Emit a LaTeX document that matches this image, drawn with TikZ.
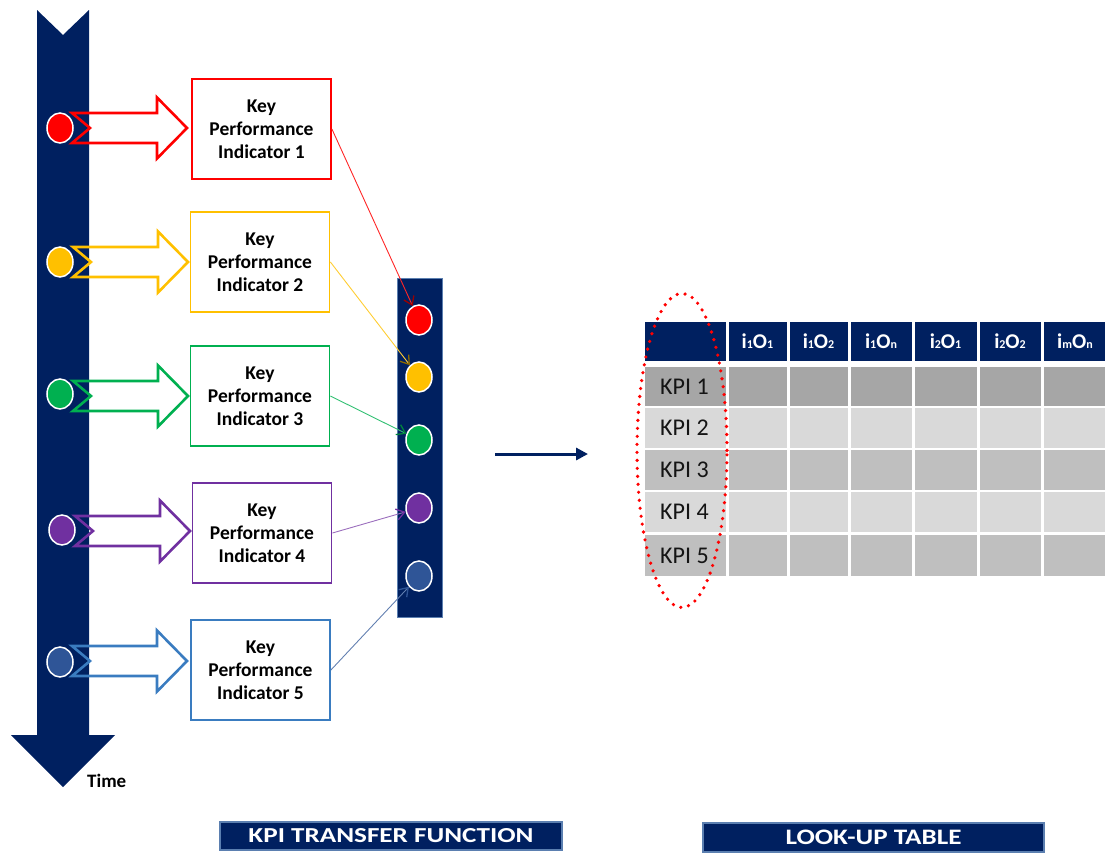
\documentclass[tikz,border=0pt]{standalone}
\usepackage{fontspec}
\setmainfont{Carlito}
\usetikzlibrary{arrows.meta,shapes.geometric}

\definecolor{navy}{HTML}{002060}
\definecolor{kred}{HTML}{FF0000}
\definecolor{kyellow}{HTML}{FFC000}
\definecolor{kgreen}{HTML}{00B050}
\definecolor{kpurple}{HTML}{7030A0}
\definecolor{kblue}{HTML}{3A7CC0}
\definecolor{kdblue}{HTML}{2F5597}
\definecolor{cellA}{HTML}{A6A6A6}
\definecolor{cellB}{HTML}{D9D9D9}
\definecolor{cellC}{HTML}{BFBFBF}
\definecolor{tagline}{HTML}{5B7FB0}

% small lowered index used in the table header
\newcommand\idx[1]{\raisebox{-0.5pt}{\fontsize{12}{12}\selectfont #1}}

\tikzset{
  kdot/.style={ellipse, minimum width=26pt, minimum height=30pt, inner sep=0pt,
               draw=white, line width=1.5pt},
  kpibox/.style={rectangle, draw=#1, line width=1.8pt, fill=white,
                 minimum width=139pt, minimum height=100pt, inner sep=0pt,
                 align=center, font=\bfseries\fontsize{19.5}{23}\selectfont},
  kpilink/.style 2 args={draw=#1, line width=0.9pt,
                 -{Straight Barb[length=8pt,width=11pt,line width=1.3pt,color=#2]}},
  hollow/.pic={
    \draw[line width=2.6pt, line join=miter]
      (0,-15) -- (85,-15) -- (85,-30.5) -- (115,0) -- (85,30.5)
      -- (85,15) -- (0,15) -- (18,0) -- cycle;
  },
  tagbox/.style={rectangle, fill=navy, draw=tagline, line width=1.2pt,
                 inner sep=0pt, text=white, font=\bfseries},
  rowlabel/.style={anchor=west, inner sep=0pt, text=black!92,
                   font=\fontsize{24}{26}\selectfont},
  headlabel/.style={inner sep=0pt, text=white, font=\bfseries\fontsize{21}{22}\selectfont},
}

\begin{document}
\begin{tikzpicture}[x=1pt,y=-1pt]
\useasboundingbox (0,0) rectangle (1105,855);

% time axis
\path[fill=navy] (37,10) -- (63,35) -- (89,10) -- (89,735) -- (115,735)
  -- (63,787) -- (11,735) -- (37,735) -- cycle;
\node[anchor=base west, inner sep=0pt, font=\bfseries\fontsize{19}{21}\selectfont]
  (time) at (87,787) {Time};

% sample points on the time axis
\node[kdot, fill=kred]    (t1) at (60,128) {};
\node[kdot, fill=kyellow] (t2) at (60,262) {};
\node[kdot, fill=kgreen]  (t3) at (60,394) {};
\node[kdot, fill=kpurple] (t4) at (62,530) {};
\node[kdot, fill=kdblue]  (t5) at (60,662) {};

% block arrows into the indicators
\pic[kred]    at (72,128) {hollow};
\pic[kyellow] at (73,262) {hollow};
\pic[kgreen]  at (73,396) {hollow};
\pic[kpurple] at (75,531) {hollow};
\pic[kblue]   at (72,661) {hollow};

% indicator boxes
\node[kpibox=kred]    (b1) at (261.5,129) {Key\\Performance\\Indicator 1};
\node[kpibox=kyellow] (b2) at (260,262)   {Key\\Performance\\Indicator 2};
\node[kpibox=kgreen]  (b3) at (260,396)   {Key\\Performance\\Indicator 3};
\node[kpibox=kpurple] (b4) at (262,533)   {Key\\Performance\\Indicator 4};
\node[kpibox=kblue]   (b5) at (260.5,670) {Key\\Performance\\Indicator 5};

% collected vector
\node[rectangle, fill=navy, draw=tagline, line width=0.6pt,
      minimum width=45pt, minimum height=339pt, inner sep=0pt] (bar) at (419.5,447.5) {};
\node[kdot, fill=kred]    (m1) at (419,320) {};
\node[kdot, fill=kyellow] (m2) at (419,377) {};
\node[kdot, fill=kgreen]  (m3) at (419,440) {};
\node[kdot, fill=kpurple] (m4) at (419,508) {};
\node[kdot, fill=kdblue]  (m5) at (419,576) {};

\draw[kpilink={kred!85}{kred!60!black}]          (b1.east) -- (m1);
\draw[kpilink={kyellow!80}{kyellow!55!black}]    (b2.east) -- (m2);
\draw[kpilink={kgreen!80}{kgreen!75!black}]      (b3.east) -- (m3);
\draw[kpilink={kpurple!70}{kpurple}]             (b4.east) -- (m4);
\draw[kpilink={kdblue!75}{kdblue}]               (b5.east) -- (m5);

% step to the table
\coordinate (ga) at (495,454);
\coordinate (gb) at (588,454);
\draw[navy, line width=3pt, -{Triangle[length=12pt,width=12pt]}] (ga) -- (gb);

% look-up table: header row
\foreach \xa/\xb in {645/726, 728.5/787, 789.5/848, 850.5/912, 914.5/977, 979.5/1041, 1043.5/1105}
  \fill[navy] (\xa,322) rectangle (\xb,361);
% body rows
\foreach \ya/\yb/\c in {367/406/cellA, 408/448/cellB, 450/490/cellC, 492/532/cellB, 535/576/cellC}
  \foreach \xa/\xb in {645/726, 728.5/787, 789.5/848, 850.5/912, 914.5/977, 979.5/1041, 1043.5/1105}
    \fill[\c] (\xa,\ya) rectangle (\xb,\yb);

\node[headlabel] (h1) at (757.5,341) {i\idx{1}O\idx{1}};
\node[headlabel] (h2) at (818.5,341) {i\idx{1}O\idx{2}};
\node[headlabel] (h3) at (881,341)   {i\idx{1}O\idx{n}};
\node[headlabel] (h4) at (945.5,341) {i\idx{2}O\idx{1}};
\node[headlabel] (h5) at (1010,341)  {i\idx{2}O\idx{2}};
\node[headlabel] (h6) at (1075,341)  {i\idx{m}O\idx{n}};

\node[rowlabel] (k1) at (660,386.5) {KPI 1};
\node[rowlabel] (k2) at (660,428)   {KPI 2};
\node[rowlabel] (k3) at (660,470)   {KPI 3};
\node[rowlabel] (k4) at (660,512)   {KPI 4};
\node[rowlabel] (k5) at (660,555.5) {KPI 5};

% selection of the indicator column
\node[ellipse, draw=kred, line width=3.6pt, line cap=round,
      dash pattern=on 0pt off 8pt, minimum width=90pt, minimum height=314pt,
      inner sep=0pt] (sel) at (682,450.5) {};

% captions
\node[tagbox, minimum width=342pt, minimum height=28pt] (cap1) at (391,836)
  {\resizebox{285pt}{14pt}{KPI TRANSFER FUNCTION}};
\node[tagbox, minimum width=341pt, minimum height=29pt] (cap2) at (873.5,837.5)
  {\resizebox{176pt}{14.5pt}{LOOK-UP TABLE}};
\end{tikzpicture}
\end{document}
